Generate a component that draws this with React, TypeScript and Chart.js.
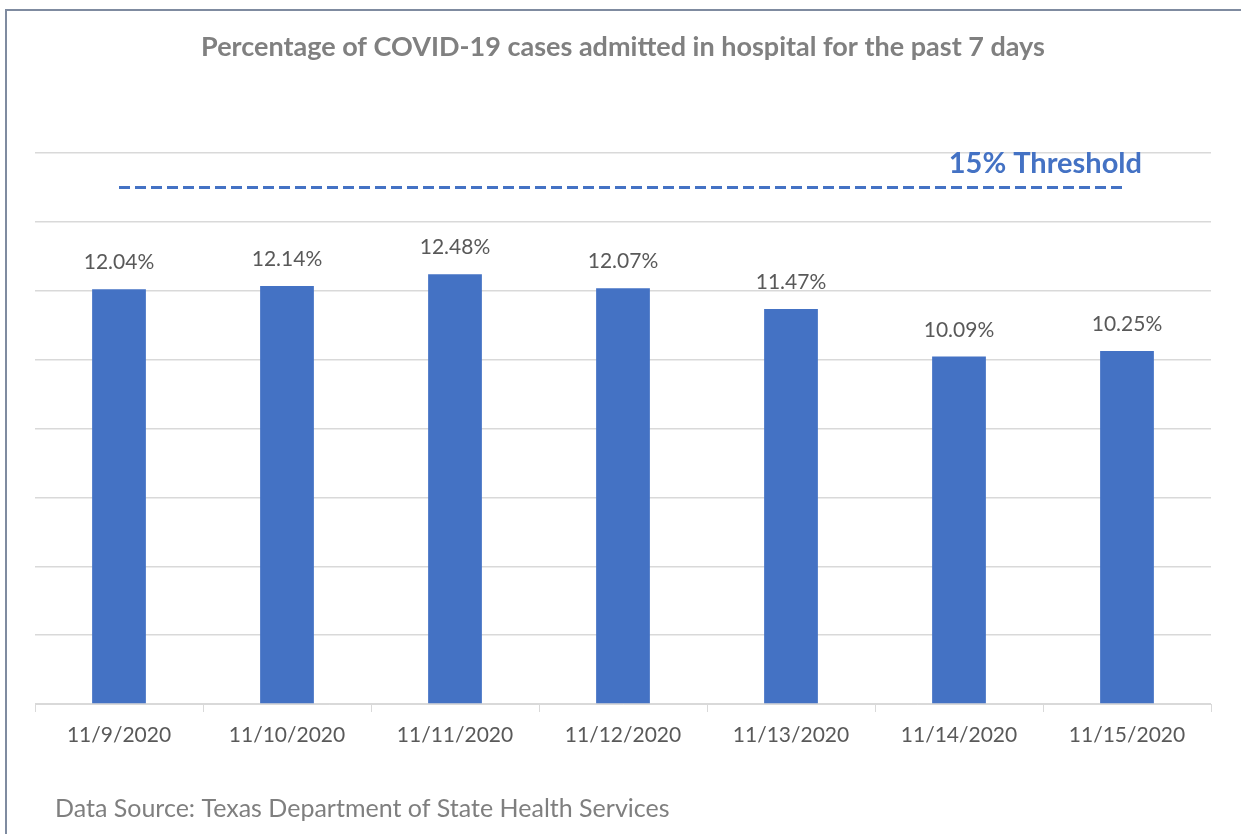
import React, { useEffect, useRef } from "react";
import { Chart, registerables } from "chart.js";

Chart.register(...registerables);

const categories = ["11/9/2020", "11/10/2020", "11/11/2020", "11/12/2020", "11/13/2020", "11/14/2020", "11/15/2020"];
const admittedPct = [12.04, 12.14, 12.48, 12.07, 11.47, 10.09, 10.25];
const thresholdPct = [15, 15, 15, 15, 15, 15, 15];
const titleText = "Percentage of COVID-19 cases admitted in hospital for the past 7 days";
const thresholdLabel = "15% Threshold";
const sourceText = "Data Source: Texas Department of State Health Services";

const FONT = "Lato, 'Open Sans', sans-serif";

const decorPlugin = {
  id: "decor",
  afterDraw(chart: any) {
    const ctx = chart.ctx;
    ctx.save();
    // frame
    ctx.strokeStyle = "#7f8ba0";
    ctx.lineWidth = 2;
    ctx.beginPath();
    ctx.moveTo(6, 900);
    ctx.lineTo(6, 10);
    ctx.lineTo(1300, 10);
    ctx.stroke();

    // title
    ctx.fillStyle = "#808080";
    ctx.font = `bold 27px ${FONT}`;
    ctx.textAlign = "center";
    ctx.textBaseline = "alphabetic";
    ctx.fillText(titleText, 623, 56);

    // threshold label
    const y = chart.scales.y;
    ctx.fillStyle = "#4472C4";
    ctx.font = `bold 29px ${FONT}`;
    ctx.textAlign = "right";
    ctx.fillText(thresholdLabel, 1142, y.getPixelForValue(15) - 14);

    // data labels
    const meta = chart.getDatasetMeta(0);
    ctx.fillStyle = "#595959";
    ctx.font = `21px ${FONT}`;
    ctx.textAlign = "center";
    meta.data.forEach((bar: any, i: number) => {
      ctx.fillText(admittedPct[i].toFixed(2) + "%", bar.x, bar.y - 20);
    });

    // source
    ctx.fillStyle = "#7f7f7f";
    ctx.font = `25px ${FONT}`;
    ctx.textAlign = "left";
    ctx.fillText(sourceText, 55, 817);
    ctx.restore();
  },
};

export default function App() {
  const ref = useRef<HTMLCanvasElement>(null);
  useEffect(() => {
    if (!ref.current) return;
    const chart = new Chart(ref.current, {
      type: "bar",
      data: {
        labels: categories,
        datasets: [
          {
            type: "bar",
            label: "Admitted",
            data: admittedPct,
            backgroundColor: "#4472C4",
            borderWidth: 0,
            barPercentage: 0.32,
            categoryPercentage: 1,
            order: 2,
          },
          {
            type: "line",
            label: "Threshold",
            data: thresholdPct,
            borderColor: "#4472C4",
            borderWidth: 3,
            borderDash: [11, 5],
            pointRadius: 0,
            fill: false,
            order: 1,
          } as any,
        ],
      },
      options: {
        responsive: false,
        animation: false,
        layout: { padding: { left: 35, right: 30, top: 153, bottom: 70 } },
        plugins: {
          legend: { display: false },
          title: { display: false },
          tooltip: { enabled: false },
        },
        scales: {
          x: {
            grid: {
              display: true,
              drawOnChartArea: false,
              drawTicks: true,
              tickLength: 8,
              color: "#d9d9d9",
            },
            border: { display: true, color: "#d9d9d9", width: 1 },
            ticks: {
              color: "#595959",
              font: { family: FONT, size: 21 },
              padding: 11,
              maxRotation: 0,
              autoSkip: false,
            },
            afterFit: (s: any) => {
              s.height = 60;
            },
          },
          y: {
            min: 0,
            max: 16,
            ticks: { display: false, stepSize: 2 },
            grid: { color: "#d9d9d9", drawTicks: false, lineWidth: 1.5 },
            border: { display: false },
            afterFit: (s: any) => {
              s.width = 0;
            },
          },
        },
      },
      plugins: [decorPlugin],
    });
    return () => chart.destroy();
  }, []);
  return (
    <div style={{ position: "absolute", left: 0, top: 0, width: 1241, height: 834, background: "#fff" }}>
      <canvas ref={ref} width={1241} height={834} style={{ display: "block" }} />
    </div>
  );
}
